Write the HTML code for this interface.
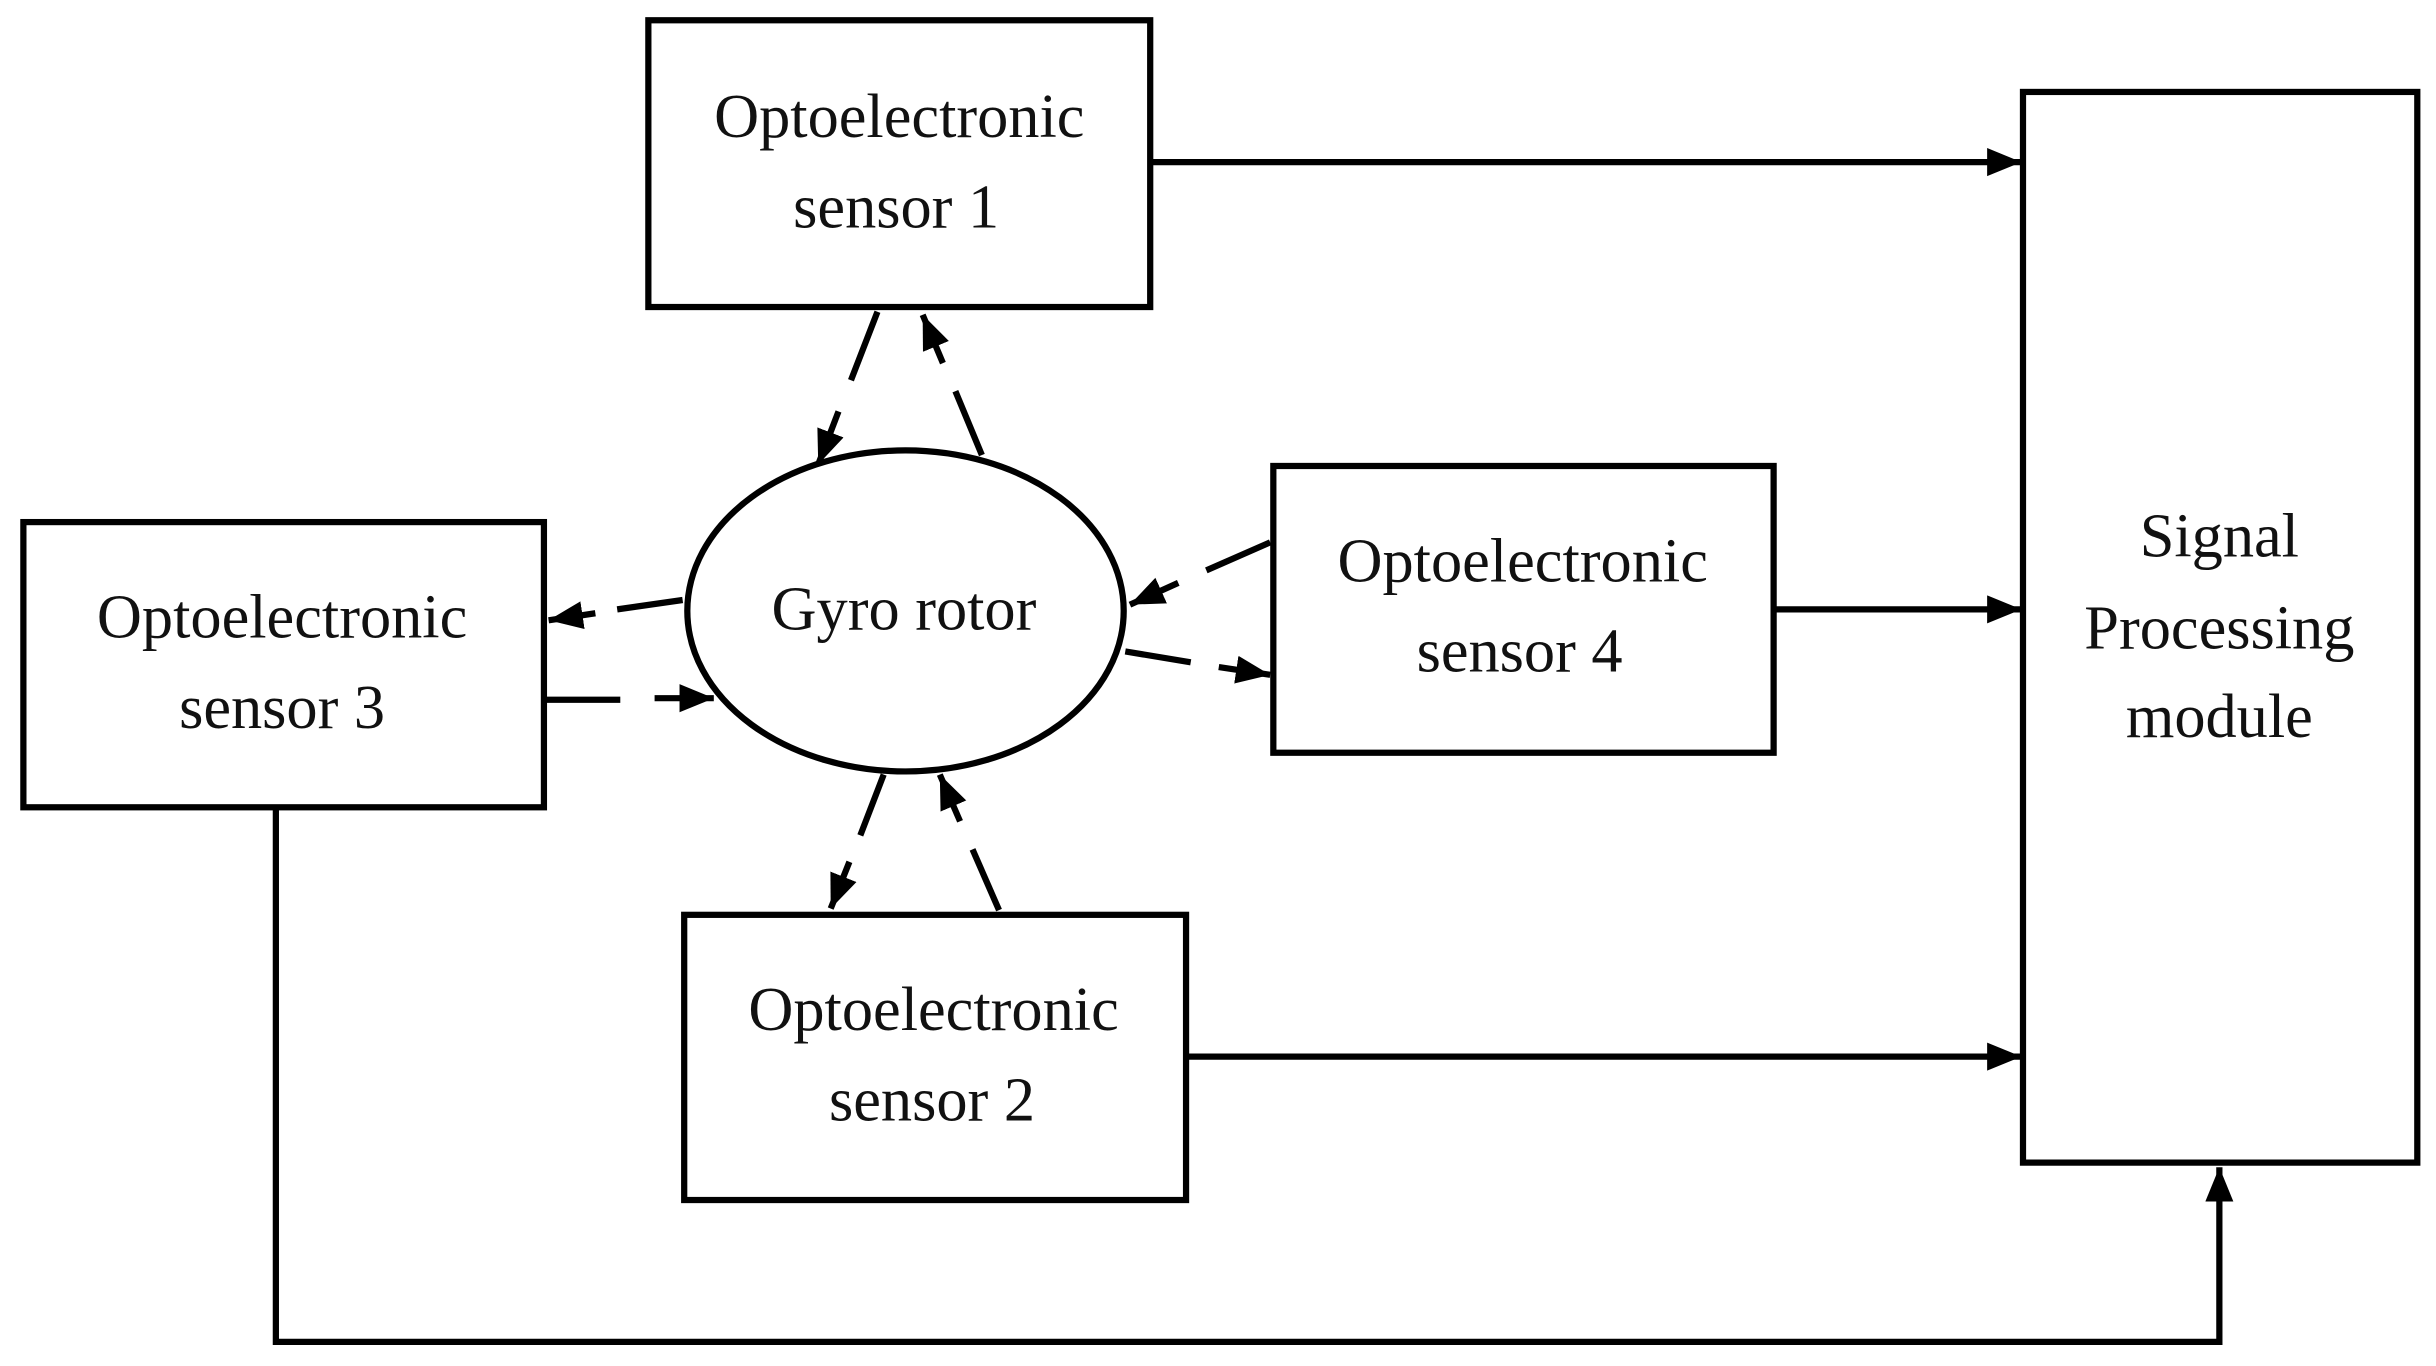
<!DOCTYPE html>
<html><head><meta charset="utf-8"><style>html,body{margin:0;padding:0;background:#fff}svg{display:block}</style></head>
<body>
<svg width="2436" height="1366" viewBox="0 0 1563 876.5" preserveAspectRatio="none" xmlns="http://www.w3.org/2000/svg">
<defs>
<marker id="a" markerUnits="userSpaceOnUse" markerWidth="24" markerHeight="20" refX="22" refY="9" orient="auto">
<path d="M0,0 L22,9 L0,18 z" fill="#000"/>
</marker>
</defs>
<g fill="#fff" stroke="#000" stroke-width="4">
<rect x="416" y="13" width="322" height="184"/>
<rect x="15" y="335" width="334" height="183"/>
<rect x="817" y="299" width="321" height="184"/>
<rect x="439" y="587" width="322" height="183"/>
<rect x="1298" y="59" width="253" height="687"/>
<ellipse cx="581" cy="392" rx="140" ry="103"/>
</g>
<g font-family="Liberation Serif, serif" font-size="40" text-anchor="middle" fill="#111">
<text x="577" y="88">Optoelectronic</text><text x="575" y="146">sensor 1</text>
<text x="181" y="409">Optoelectronic</text><text x="181" y="467">sensor 3</text>
<text x="977" y="373">Optoelectronic</text><text x="975" y="431">sensor 4</text>
<text x="599" y="661">Optoelectronic</text><text x="598" y="719">sensor 2</text>
<text x="1424" y="357">Signal</text><text x="1424" y="416">Processing</text><text x="1424" y="473">module</text>
<text x="580" y="404">Gyro rotor</text>
</g>
<g stroke="#000" stroke-width="4" fill="none">
<line x1="738" y1="104" x2="1297" y2="104" marker-end="url(#a)"/>
<line x1="1138" y1="391" x2="1297" y2="391" marker-end="url(#a)"/>
<line x1="761" y1="678" x2="1297" y2="678" marker-end="url(#a)"/>
<polyline points="177,518 177,861 1424,861 1424,749" marker-end="url(#a)"/>

<line x1="563" y1="200" x2="546" y2="244"/><line x1="538" y1="264" x2="525" y2="298" marker-end="url(#a)"/>
<line x1="630" y1="292" x2="613" y2="251"/><line x1="605" y1="233" x2="592" y2="202" marker-end="url(#a)"/>
<line x1="438" y1="385" x2="396" y2="391"/><line x1="382" y1="393.5" x2="352" y2="398" marker-end="url(#a)"/>
<line x1="349" y1="449" x2="398" y2="449"/><line x1="420" y1="448" x2="458" y2="448" marker-end="url(#a)"/>
<line x1="815" y1="348" x2="774" y2="366"/><line x1="756" y1="374" x2="725" y2="388" marker-end="url(#a)"/>
<line x1="722" y1="418" x2="764" y2="425"/><line x1="782" y1="428" x2="815" y2="433" marker-end="url(#a)"/>
<line x1="567" y1="497" x2="552" y2="536"/><line x1="545" y1="553" x2="533" y2="583" marker-end="url(#a)"/>
<line x1="641" y1="584" x2="624" y2="545"/><line x1="616" y1="527" x2="603" y2="497" marker-end="url(#a)"/>
</g>
</svg>
</body></html>
